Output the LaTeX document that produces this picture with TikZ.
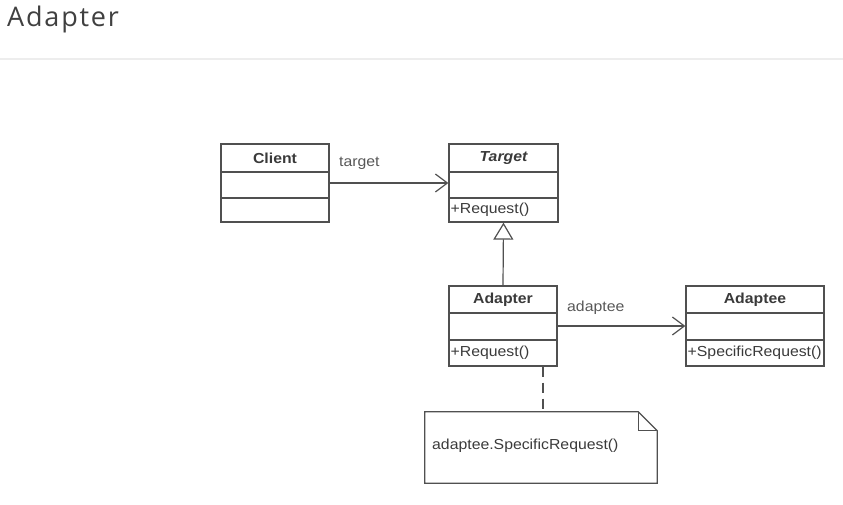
\documentclass[tikz,border=0pt]{standalone}
\usepackage{fontspec}
\setmainfont{Liberation Sans}
\newfontfamily\umlfont[FakeStretch=1.09]{Liberation Sans}
\newfontfamily\titlefont{Open Sans}
\usetikzlibrary{arrows.meta}
\definecolor{uml}{HTML}{505050}
\definecolor{umltext}{HTML}{3A3A3A}
\begin{document}
\begin{tikzpicture}[x=1pt,y=-1pt,
  classbox/.style={draw=uml, line width=1.3pt, inner sep=0pt},
  sep/.style={draw=uml, line width=1.1pt},
  cname/.style={font=\umlfont\fontsize{14.5}{16}\selectfont\bfseries, text=umltext, inner sep=0pt},
  member/.style={font=\umlfont\fontsize{14.5}{16}\selectfont, text=umltext, inner sep=0pt, anchor=west},
  lbl/.style={font=\umlfont\fontsize{14.5}{16}\selectfont, text=umltext!85, inner sep=0pt},
  assoc/.style={draw=uml, line width=1.2pt, -{Straight Barb[length=12pt, width=18pt, line width=1.2pt]}},
  inherit/.style={draw=uml, line width=1.2pt, -{Triangle[open, length=17pt, width=20pt, line width=1.2pt]}},
  notebox/.style={draw=uml, line width=1.2pt},
]
\useasboundingbox (0,0) rectangle (843,505);
% title
\node[anchor=west, inner sep=0pt, font=\titlefont\fontsize{27}{30}\selectfont, text=black!75] (title) at (7,19) {A\kern1.8pt d\kern1.8pt a\kern1.8pt p\kern1.8pt t\kern1.8pt e\kern1.8pt r};
\draw[draw=black!7, line width=2pt] (0,59) -- (843,59);

% Client
\node[classbox, minimum width=108, minimum height=78] (client) at (275,183) {};
\draw[sep] (221,172) -- (329,172);
\draw[sep] (221,198) -- (329,198);
\node[cname] (clientname) at (275,158) {Client};

% Target
\node[classbox, minimum width=109, minimum height=78] (target) at (503.5,183) {};
\draw[sep] (449,172) -- (558,172);
\draw[sep] (449,198) -- (558,198);
\node[cname, font=\umlfont\fontsize{14.5}{16}\selectfont\bfseries\itshape] (targetname) at (503.5,158) {Target};
\node[member] (targetop) at (450.5,210) {+Request()};

% Adapter
\node[classbox, minimum width=108, minimum height=80] (adapter) at (503,326) {};
\draw[sep] (449,313) -- (557,313);
\draw[sep] (449,340) -- (557,340);
\node[cname] (adaptername) at (503,300) {Adapter};
\node[member] (adapterop) at (450.5,353) {+Request()};

% Adaptee
\node[classbox, minimum width=138, minimum height=80] (adaptee) at (755,326) {};
\draw[sep] (686,313) -- (824,313);
\draw[sep] (686,340) -- (824,340);
\node[cname] (adapteename) at (755,300) {Adaptee};
\node[member] (adapteeop) at (687.5,353) {+SpecificRequest()};

% associations
\draw[assoc] (client.east) -- (target.west);
\node[lbl, anchor=west] (targetlbl) at (339,163) {target};
\draw[assoc] (adapter.east) -- (adaptee.west);
\node[lbl, anchor=west] (adapteelbl) at (567,308) {adaptee};

% generalization
\draw[inherit] (adapter.north) -- (target.south);

% note
\node[minimum width=232, minimum height=71, inner sep=0pt] (note) at (541,447.5) {};
\draw[notebox] (note.north west) -- ([xshift=-19pt]note.north east) -- ([yshift=-19pt]note.north east) -- (note.south east) -- (note.south west) -- cycle;
\draw[notebox] ([xshift=-19pt]note.north east) |- ([yshift=-19pt]note.north east);
\node[member] (notetext) at (432,446) {adaptee.SpecificRequest()};
\coordinate (dashx) at (543,0);
\draw[draw=uml, line width=1.2pt, dash pattern=on 10pt off 6pt] (adapter.south -| dashx) -- (note.north -| dashx);
\end{tikzpicture}
\end{document}
